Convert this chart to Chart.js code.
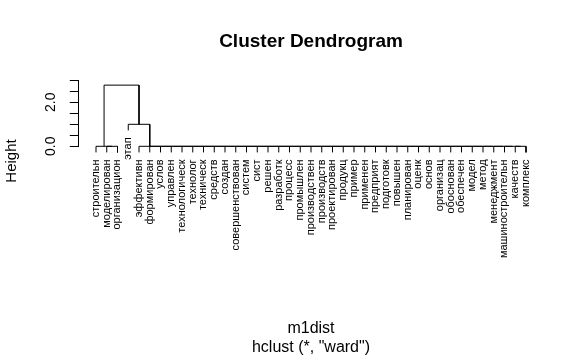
<!DOCTYPE html>
<html>
<head>
<meta charset="utf-8">
<script src="https://cdn.jsdelivr.net/npm/chart.js@4.4.1/dist/chart.umd.min.js"></script>
<style>
  html, body { margin: 0; padding: 0; background: #ffffff; }
  #c { display: block; }
</style>
</head>
<body>
<canvas id="c" width="584" height="357"></canvas>
<script>
// ---- data (hclust result, leaves in plotting order) ----
const leafLabels = [
  "строительн", "моделирован", "организацион", "этап", "эффективн", "формирован",
  "услов", "управлен", "технологическ", "технолог", "техническ", "средств",
  "создан", "совершенствован", "систем", "сист", "решен", "разработк", "процесс",
  "промышлен", "производствен", "производств", "проектирован", "продукц", "пример",
  "применен", "предприят", "подготовк", "повышен", "планирован", "оценк", "основ",
  "организац", "обоснован", "обеспечен", "модел", "метод", "менеджмент",
  "машиностроительн", "качеств", "комплекс"
];
// merge matrix (R hclust convention: negative = leaf position, positive = earlier merge)
const mergeLeft = [-2, -1, -40, -39, -38, -37, -36, -35, -34, -33, -32, -31, -30, -29,
  -28, -27, -26, -25, -24, -23, -22, -21, -20, -19, -18, -17, -16, -15, -14, -13, -12,
  -11, -10, -9, -8, -7, -6, -5, -4, 2];
const mergeRight = [-3, 1, -41, 3, 4, 5, 6, 7, 8, 9, 10, 11, 12, 13, 14, 15, 16, 17, 18,
  19, 20, 21, 22, 23, 24, 25, 26, 27, 28, 29, 30, 31, 32, 33, 34, 35, 36, 37, 38, 39];
const mergeHeights = [0, 0, 0, 0, 0, 0, 0, 0, 0, 0, 0, 0, 0, 0, 0, 0, 0, 0, 0, 0, 0, 0,
  0, 0, 0, 0, 0, 0, 0, 0, 0, 0, 0, 0, 0, 0, 0, 0, 1.0, 2.78];
const yTickValues = [0, 0.5, 1, 1.5, 2, 2.5, 3];
const yTickLabelValues = [0, 2];
const yTickLabels = ["0.0", "2.0"];
const hangFraction = 0.1;
const titleText = "Cluster Dendrogram";
const xTitle = "m1dist";
const subTitle = 'hclust (*, "ward")';
const yTitle = "Height";

// ---- build segments from the merge structure ----
const hMax = Math.max(...mergeHeights), hMin = Math.min(...mergeHeights);
const hang = hangFraction * (hMax - hMin);
const mid = [];
const leafEnd = new Array(leafLabels.length).fill(0);
const datasets = [];
for (let k = 0; k < mergeHeights.length; k++) {
  const h = mergeHeights[k];
  const ends = [mergeLeft[k], mergeRight[k]].map(c => {
    if (c < 0) {
      leafEnd[-c - 1] = h - hang;
      return { x: -c, y: h - hang };
    }
    return { x: mid[c - 1], y: mergeHeights[c - 1] };
  });
  mid.push((ends[0].x + ends[1].x) / 2);
  datasets.push({
    data: [
      { x: ends[0].x, y: ends[0].y }, { x: ends[0].x, y: h },
      { x: ends[1].x, y: h }, { x: ends[1].x, y: ends[1].y }
    ],
    showLine: true, borderColor: "#000000", borderWidth: 1,
    pointRadius: 0, fill: false, tension: 0, clip: false
  });
}

const FONT = '"Liberation Sans", Arial, sans-serif';

const textPlugin = {
  id: "rtext",
  afterDraw(chart) {
    const ctx = chart.ctx, xs = chart.scales.x, ys = chart.scales.y, a = chart.chartArea;
    const cx = (a.left + a.right) / 2;
    ctx.save();
    ctx.fillStyle = "#000000";
    // main title
    ctx.font = "bold 19px " + FONT;
    ctx.textAlign = "center";
    ctx.textBaseline = "alphabetic";
    ctx.fillText(titleText, cx, 47);
    // x title and sub title
    ctx.font = "16px " + FONT;
    ctx.fillText(xTitle, cx, 332.5);
    ctx.fillText(subTitle, cx, 351.5);
    // y tick labels (rotated)
    ctx.font = "14px " + FONT;
    yTickLabelValues.forEach((v, i) => {
      ctx.save();
      ctx.translate(55, ys.getPixelForValue(v));
      ctx.rotate(-Math.PI / 2);
      ctx.textAlign = "center";
      ctx.fillText(yTickLabels[i], 0, 0);
      ctx.restore();
    });
    // y title
    ctx.font = "15px " + FONT;
    ctx.save();
    ctx.translate(16, 161);
    ctx.rotate(-Math.PI / 2);
    ctx.textAlign = "center";
    ctx.fillText(yTitle, 0, 0);
    ctx.restore();
    // leaf labels
    ctx.font = "11px " + FONT;
    leafLabels.forEach((lab, i) => {
      ctx.save();
      ctx.translate(xs.getPixelForValue(i + 1) + 2.8, ys.getPixelForValue(leafEnd[i]) + 7);
      ctx.rotate(-Math.PI / 2);
      ctx.textAlign = "right";
      ctx.fillText(lab, 0, 0);
      ctx.restore();
    });
    ctx.restore();
  }
};

new Chart(document.getElementById("c"), {
  type: "scatter",
  data: { datasets },
  options: {
    responsive: false,
    animation: false,
    events: [],
    layout: { padding: { left: 0, right: 40.8, top: 80.3, bottom: 210.7 } },
    plugins: { legend: { display: false }, tooltip: { enabled: false }, title: { display: false } },
    scales: {
      x: { type: "linear", display: false, min: -0.6, max: 42.6 },
      y: {
        type: "linear", position: "left", min: 0, max: 3,
        afterFit: s => { s.width = 78.8; },
        afterBuildTicks: s => { s.ticks = yTickValues.map(v => ({ value: v })); },
        ticks: { display: false, stepSize: 0.5 },
        grid: { drawOnChartArea: false, drawTicks: true, tickLength: 9, color: "#000000", lineWidth: 1 },
        border: { display: true, color: "#000000", width: 1 }
      }
    }
  },
  plugins: [textPlugin]
});
</script>
</body>
</html>
